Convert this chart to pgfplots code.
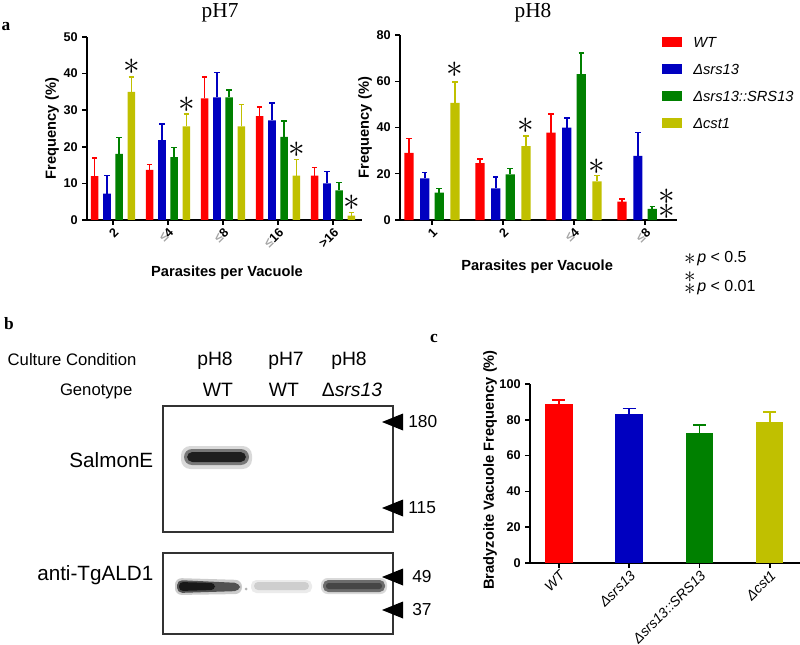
\documentclass[border=0pt]{standalone}
\usepackage{pgfplots}
\pgfplotsset{compat=1.18}
\usepackage{fontspec}
\setmainfont{Liberation Sans}
\newfontfamily\timesf{Liberation Serif}
\definecolor{cR}{RGB}{255,0,0}
\definecolor{cB}{RGB}{0,0,192}
\definecolor{cG}{RGB}{0,128,0}
\definecolor{cY}{RGB}{192,192,0}
\newcommand{\fs}[1]{\fontsize{#1}{#1}\selectfont}
\newcommand{\leqg}{{\color{gray!70}≤}}
\pgfplotsset{
  eb/.style n args={3}{fill=#1, draw=none, bar shift=#2,
    error bars/y dir=plus, error bars/y explicit,
    error bars/error bar style={draw=#1, line width=1.2pt, solid},
    error bars/error mark options={rotate=90, draw=#1, line width=1.2pt, mark size=#3, solid}},
  myaxis/.style={scale only axis, ybar, axis x line*=bottom, axis y line*=left,
    axis line style={-, line width=1.1pt}, tick align=outside, major tick length=3.5pt,
    major tick style={line width=1.1pt, black}, enlargelimits=false, clip=false,
    tick label style={font=\bfseries\fs{9.5}}, /pgf/number format/assume math mode=true,
    xticklabel style={rotate=45, anchor=north east, inner sep=1pt},
    ylabel style={font=\bfseries\fs{11}}, xlabel style={font=\bfseries\fs{11}},
    every axis title shift=0pt},
}
\newcommand{\st}[1]{\fontsize{#1}{#1}\selectfont$\ast$}
\begin{document}
\begin{tikzpicture}
\useasboundingbox (0pt,0pt) rectangle (600pt,-483.75pt);
% ---------------- pH7 ----------------
\begin{axis}[myaxis, at={(65.25pt,-165pt)}, anchor=south west,
  width=206.25pt, height=137.25pt, bar width=0.14,
  xmin=-0.473, xmax=4.527, ymin=0, ymax=50,
  xtick={0,1,2,3,4}, xticklabels={2,\leqg4,\leqg8,\leqg16,>16},
  ytick={0,10,...,50},
  ylabel={Frequency (\%)}, ylabel style={at={(axis description cs:-0.127,0.5)}, anchor=center},
  xlabel={Parasites per Vacuole}, xlabel style={at={(axis description cs:0.509,-0.29)}, anchor=center},
  title={pH7}, title style={font=\timesf\fs{16}, at={(axis description cs:0.484,1.131)}, anchor=center}]
\addplot[eb={cR}{-0.334}{2pt}] table[x=x,y=y,y error plus=e,row sep=\\]{x y e\\0 12.0 5.0\\1 13.7 1.5\\2 33.2 5.8\\3 28.4 2.4\\4 12.1 2.2\\};
\addplot[eb={cB}{-0.111}{2pt}] table[x=x,y=y,y error plus=e,row sep=\\]{x y e\\0 7.2 5.0\\1 21.8 4.5\\2 33.5 6.8\\3 27.2 4.8\\4 10.0 3.3\\};
\addplot[eb={cG}{0.111}{2pt}] table[x=x,y=y,y error plus=e,row sep=\\]{x y e\\0 18.1 4.4\\1 17.2 2.6\\2 33.5 2.1\\3 22.7 4.3\\4 8.1 2.2\\};
\addplot[eb={cY}{0.334}{2pt}] table[x=x,y=y,y error plus=e,row sep=\\]{x y e\\0 35.0 4.0\\1 25.6 3.4\\2 25.6 6.0\\3 12.1 4.4\\4 1.2 0.8\\};
\node[inner sep=0pt] at (axis cs:0.334,41.8) {\st{26}};
\node[inner sep=0pt] at (axis cs:1.334,31.4) {\st{26}};
\node[inner sep=0pt] at (axis cs:3.334,19.1) {\st{26}};
\node[inner sep=0pt] at (axis cs:4.334,4.8) {\st{26}};
\end{axis}
% ---------------- pH8 ----------------
\begin{axis}[myaxis, at={(300pt,-165pt)}, anchor=south west,
  width=207.75pt, height=138.75pt, bar width=0.13,
  xmin=-0.45, xmax=3.45, ymin=0, ymax=80,
  xtick={0,1,2,3}, xticklabels={1,2,\leqg4,\leqg8},
  ytick={0,20,...,80},
  ylabel={Frequency (\%)}, ylabel style={at={(axis description cs:-0.126,0.5)}, anchor=center},
  xlabel={Parasites per Vacuole}, xlabel style={at={(axis description cs:0.495,-0.254)}, anchor=center},
  title={pH8}, title style={font=\timesf\fs{16}, at={(axis description cs:0.48,1.119)}, anchor=center},
  every axis plot/.append style={legend image code/.code={\fill[##1] (0pt,0pt) rectangle (15pt,7.5pt);}},
  legend entries={WT,Δsrs13,Δsrs13::SRS13,Δcst1},
  legend cell align=left,
  legend style={at={(axis description cs:0.9458,0.993)}, anchor=north west, draw=none, fill=none,
    inner sep=0pt, row sep=10.25pt, column sep=8.25pt, font=\itshape\fs{11},
    nodes={inner sep=0pt, text height=8pt, text depth=2pt, anchor=base west}}]
\addplot[eb={cR}{-0.324}{2pt}] table[x=x,y=y,y error plus=e,row sep=\\]{x y e\\0 29.0 6.3\\1 24.6 1.9\\2 37.8 8.0\\3 7.9 1.3\\};
\addplot[eb={cB}{-0.101}{2pt}] table[x=x,y=y,y error plus=e,row sep=\\]{x y e\\0 18.0 2.6\\1 13.7 4.9\\2 40.0 4.0\\3 27.7 10.1\\};
\addplot[eb={cG}{0.101}{2pt}] table[x=x,y=y,y error plus=e,row sep=\\]{x y e\\0 11.8 1.9\\1 19.7 2.6\\2 63.1 9.1\\3 4.8 1.0\\};
\addplot[eb={cY}{0.324}{2pt}] table[x=x,y=y,y error plus=e,row sep=\\]{x y e\\0 50.6 9.1\\1 32.0 4.2\\2 16.7 2.6\\};
\node[inner sep=0pt] at (axis cs:0.324,64.9) {\st{26}};
\node[inner sep=0pt] at (axis cs:1.324,40.6) {\st{26}};
\node[inner sep=0pt] at (axis cs:2.324,22.9) {\st{26}};
\node[inner sep=0pt] at (axis cs:3.3,10.2) {\st{26}};
\node[inner sep=0pt] at (axis cs:3.3,3.6) {\st{26}};
\end{axis}
% ---------------- panel c ----------------
\begin{axis}[myaxis, at={(397.5pt,-422.25pt)}, anchor=south west,
  width=202.5pt, height=134.25pt, bar width=0.39,
  xmin=-0.41, xmax=3.43, ymin=0, ymax=100,
  xtick={0,1,2,3}, xticklabels={WT,Δsrs13,Δsrs13::SRS13,Δcst1},
  xticklabel style={font=\itshape\fs{10.5}},
  ytick={0,20,...,100},
  ylabel={Bradyzoite Vacuole Frequency (\%)}, ylabel style={at={(axis description cs:-0.148,0.52)}, anchor=center}]
\addplot[eb={cR}{0}{4.8pt}] table[x=x,y=y,y error plus=e,row sep=\\]{x y e\\0 88.7 2.3\\};
\addplot[eb={cB}{0}{4.8pt}] table[x=x,y=y,y error plus=e,row sep=\\]{x y e\\1 83.1 3.3\\};
\addplot[eb={cG}{0}{4.8pt}] table[x=x,y=y,y error plus=e,row sep=\\]{x y e\\2 72.5 4.6\\};
\addplot[eb={cY}{0}{4.8pt}] table[x=x,y=y,y error plus=e,row sep=\\]{x y e\\3 78.6 5.9\\};
\end{axis}
% ---------------- annotations & blot ----------------
\begin{scope}[x=0.75pt,y=-0.75pt]
\node[font=\timesf\bfseries\fs{13}] at (6,27) {a};
\node[font=\timesf\bfseries\fs{13}] at (9,324) {b};
\node[font=\timesf\bfseries\fs{13}] at (434,338) {c};
% p-value notes
\node[inner sep=0pt] at (690,259) {\st{17}};
\node[anchor=base west, font=\fs{12}, inner sep=0pt] at (697,263) {\textit{p} < 0.5};
\node[inner sep=0pt, align=center, font=\fontsize{17}{6.5}\selectfont] at (690,283) {$\ast$\\$\ast$};
\node[anchor=base west, font=\fs{12}, inner sep=0pt] at (697,292) {\textit{p} < 0.01};
% blot labels
\node[anchor=base west, font=\fs{12.5}] at (3,366) {Culture Condition};
\node[anchor=base east, font=\fs{12.5}] at (137,396) {Genotype};
\node[anchor=base, font=\fs{14.5}] at (215,366) {pH8};
\node[anchor=base, font=\fs{14.5}] at (286,366) {pH7};
\node[anchor=base, font=\fs{14.5}] at (349,366) {pH8};
\node[anchor=base, font=\fs{14.5}] at (218,397) {WT};
\node[anchor=base, font=\fs{14.5}] at (284,397) {WT};
\node[anchor=base, font=\fs{14.5}] at (352,397) {Δ\textit{srs13}};
\node[anchor=base east, font=\fs{15.5}] at (158,467) {SalmonE};
\node[anchor=base east, font=\fs{15.5}] at (158,580) {anti-TgALD1};
% bands SalmonE
\fill[black, opacity=0.15, rounded corners=7] (181,446) rectangle (252,469);
\fill[black, opacity=0.45, rounded corners=6] (184,449) rectangle (249,465);
\fill[black, opacity=0.75, rounded corners=4] (187,452) rectangle (246,462);
% bands ALD1
\fill[black, opacity=0.2, rounded corners=5] (175,578) -- (242,580) -- (242,594) -- (175,595) -- cycle;
\fill[black, opacity=0.6, rounded corners=4] (177,580) -- (240,583) -- (240,591) -- (177,593) -- cycle;
\fill[black, opacity=0.7, rounded corners=3] (179,582) -- (215,583) -- (215,590) -- (179,591) -- cycle;
\fill[black, opacity=0.08, rounded corners=4] (251,580) rectangle (312,593);
\fill[black, opacity=0.12, rounded corners=3] (254,582) rectangle (309,590);
\fill[black, opacity=0.15, rounded corners=5] (321,578) rectangle (387,594);
\fill[black, opacity=0.5, rounded corners=4] (323,580) rectangle (385,592);
\fill[black, opacity=0.35, rounded corners=2] (326,583) rectangle (382,589);
\fill[black, opacity=0.3] (246,589) circle (1.5);
% boxes
\draw[line width=0.8pt, black!80] (163,406) rectangle (393,532);
\draw[line width=0.8pt, black!80] (163,553) rectangle (393,634);
% markers
\foreach \yy/\lab/\xx in {422/180/408, 508/115/408, 577/49/412, 610/37/412}{
  \fill (382,\yy) -- (403,\yy-8.5) -- (403,\yy+8.5) -- cycle;
  \node[anchor=west, font=\fs{13}, inner sep=0pt] at (\xx,\yy) {\lab};
}
\end{scope}
\end{tikzpicture}
\end{document}
